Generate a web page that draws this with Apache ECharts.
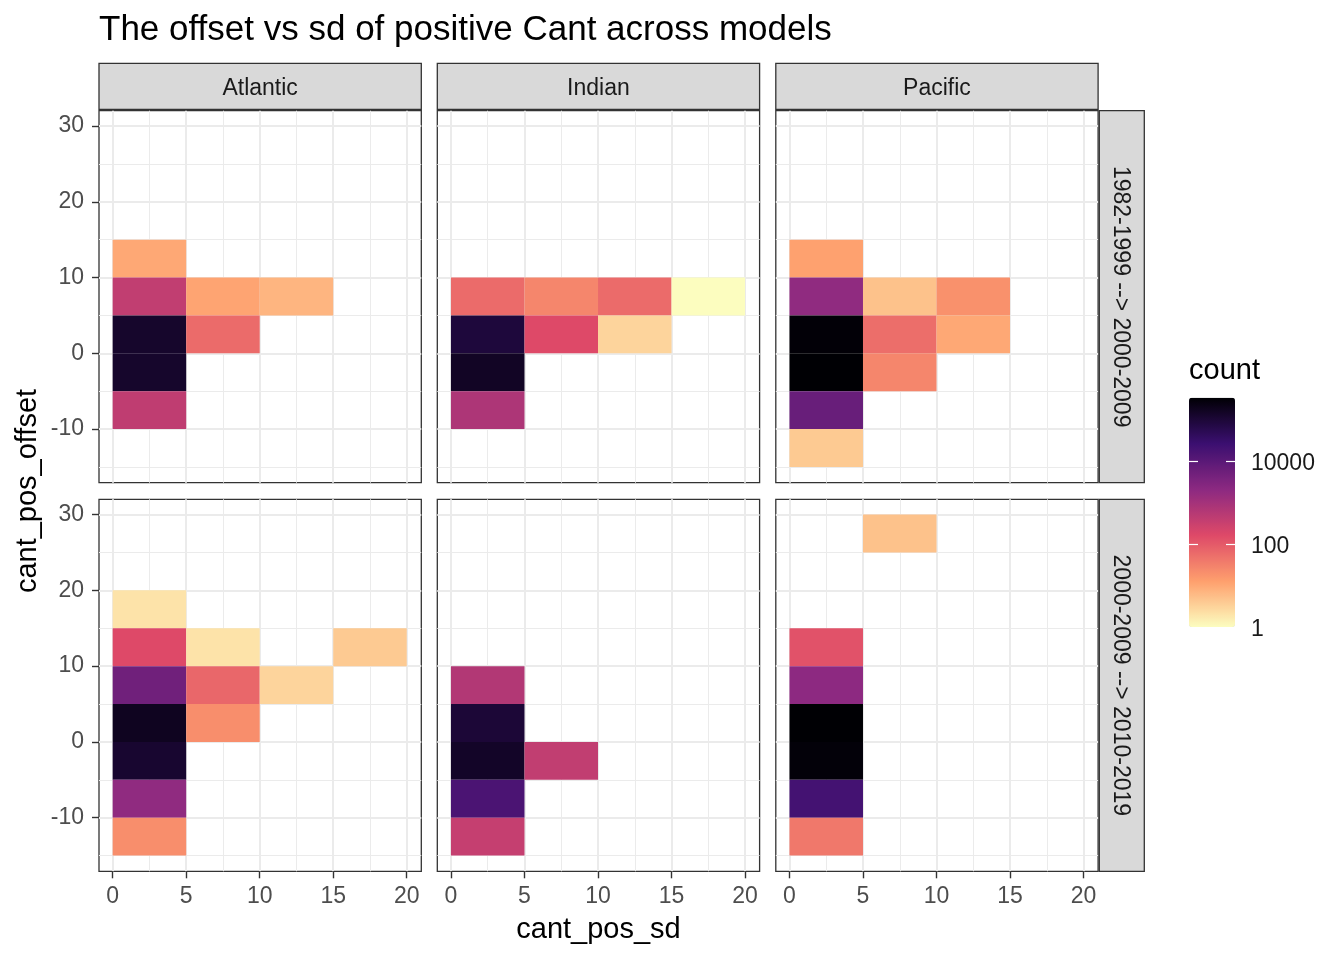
<!DOCTYPE html>
<html><head><meta charset="utf-8">
<script src="https://cdn.jsdelivr.net/npm/echarts@6/dist/echarts.min.js"></script>
<style>html,body{margin:0;padding:0;background:#fff}#c{width:1344px;height:960px}</style>
</head><body><div id="c"></div>
<script>
const basins = ['Atlantic', 'Indian', 'Pacific'];
const periods = ['1982-1999 --> 2000-2009', '2000-2009 --> 2010-2019'];
const xTicks = [0, 5, 10, 15, 20];
const xMinorTicks = [2.5, 7.5, 12.5, 17.5];
const yTicks = [-10, 0, 10, 20, 30];
const yMinorTicks = [-15, -5, 5, 15, 25];
const legendTicks = [1, 100, 10000];
const binWidth = 5;
const maxCount = 335000;
// [cant_pos_sd bin start, cant_pos_offset bin start, count]
const atlanticEarly = [[0,10,10],[0,5,400],[5,5,11],[10,5,7],[0,0,130000],[5,0,60],[0,-5,130000],[0,-10,420]];
const indianEarly = [[0,5,60],[5,5,27],[10,5,60],[15,5,1],[0,0,90000],[5,0,160],[10,0,3],[0,-5,155000],[0,-10,750]];
const pacificEarly = [[0,10,12],[0,5,1800],[5,5,5],[10,5,19],[0,0,310000],[5,0,55],[10,0,10],[0,-5,335000],[5,-5,27],[0,-10,6300],[0,-15,4]];
const atlanticLate = [[0,15,2],[0,10,160],[5,10,2],[15,10,4],[0,5,5000],[5,5,66],[10,5,3],[0,0,175000],[5,0,21],[0,-5,120000],[0,-10,1800],[0,-15,21]];
const indianLate = [[0,5,640],[0,0,100000],[0,-5,145000],[5,-5,400],[0,-10,16000],[0,-15,350]];
const pacificLate = [[5,25,5],[0,10,125],[0,5,2000],[0,0,335000],[0,-5,300000],[0,-10,20000],[0,-15,40]];
const panels = [[atlanticEarly, indianEarly, pacificEarly], [atlanticLate, indianLate, pacificLate]];

const FONT = "'Liberation Sans', Arial, sans-serif";
const colLeft = [99, 437.3, 775.8];
const rowTop = [110.7, 499.3];
const panelW = 322.3, panelH = 372;
const xMin = -0.93, xMax = 20.99, yMin = -17.08, yMax = 32.02;
const magmaRev = ['#FCFDBF','#FE9F6D','#DE4968','#8C2981','#3B0F70','#000004'];

const grids = [], xAxes = [], yAxes = [], series = [], graphics = [];

function renderCell(params, api) {
  const x0 = api.value(0), y0 = api.value(1);
  const p1 = api.coord([x0, y0 + binWidth]);
  const p2 = api.coord([x0 + binWidth, y0]);
  return { type: 'rect', shape: { x: p1[0], y: p1[1], width: p2[0] - p1[0], height: p2[1] - p1[1] },
           style: { fill: api.visual('color') } };
}

for (let r = 0; r < 2; r++) {
  for (let c = 0; c < 3; c++) {
    const gi = r * 3 + c;
    grids.push({ left: colLeft[c], top: rowTop[r], width: panelW, height: panelH, show: true,
      backgroundColor: '#fff', borderColor: '#333333', borderWidth: 1.3, containLabel: false, outerBoundsMode: 'none' });
    const xi = xAxes.length;
    xAxes.push({ gridIndex: gi, type: 'value', min: xMin, max: xMax, position: 'bottom',
      axisLine: { show: false, onZero: false },
      axisTick: { show: r === 1, length: 7, lineStyle: { color: '#333333', width: 1.4 }, customValues: xTicks },
      axisLabel: { show: r === 1, customValues: xTicks, margin: 14, fontSize: 23, color: '#4D4D4D', fontFamily: FONT },
      splitLine: { show: true, lineStyle: { color: '#EBEBEB', width: 2 } } });
    xAxes.push({ gridIndex: gi, type: 'value', min: xMin, max: xMax, position: 'top',
      axisLine: { show: false, onZero: false },
      axisTick: { show: false, customValues: xMinorTicks },
      axisLabel: { show: false, customValues: xMinorTicks },
      splitLine: { show: true, lineStyle: { color: '#EBEBEB', width: 1 } } });
    const yi = yAxes.length;
    yAxes.push({ gridIndex: gi, type: 'value', min: yMin, max: yMax, position: 'left',
      axisLine: { show: false, onZero: false },
      axisTick: { show: c === 0, length: 7, lineStyle: { color: '#333333', width: 1.4 }, customValues: yTicks },
      axisLabel: { show: c === 0, customValues: yTicks, margin: 15, fontSize: 23, color: '#4D4D4D', fontFamily: FONT },
      splitLine: { show: true, lineStyle: { color: '#EBEBEB', width: 2 } } });
    yAxes.push({ gridIndex: gi, type: 'value', min: yMin, max: yMax, position: 'right',
      axisLine: { show: false, onZero: false },
      axisTick: { show: false, customValues: yMinorTicks },
      axisLabel: { show: false, customValues: yMinorTicks },
      splitLine: { show: true, lineStyle: { color: '#EBEBEB', width: 1 } } });
    series.push({ type: 'custom', xAxisIndex: xi, yAxisIndex: yi, renderItem: renderCell,
      encode: { x: 0, y: 1 }, z: 5,
      data: panels[r][c].map(d => [d[0], d[1], d[2], Math.log10(d[2])]) });
  }
}

// colour legend axis grids (ticks; labels)
const legendLeft = 1189, legendTop = 397.7, legendW = 46, legendH = 229.3;
const logMax = Math.log10(maxCount);
const legendVals = legendTicks.map(v => Math.log10(v));
grids.push({ left: legendLeft, top: legendTop, width: legendW, height: legendH, show: false, containLabel: false, outerBoundsMode: 'none' });
grids.push({ left: legendLeft, top: legendTop + 3, width: legendW, height: legendH, show: false, containLabel: false, outerBoundsMode: 'none' });
xAxes.push({ gridIndex: 6, type: 'value', show: false, min: 0, max: 1 });
xAxes.push({ gridIndex: 7, type: 'value', show: false, min: 0, max: 1 });
const whiteTick = { show: true, inside: true, length: 9, lineStyle: { color: '#ffffff', width: 1.2 }, customValues: legendVals.slice(1) };
yAxes.push({ gridIndex: 6, type: 'value', min: 0, max: logMax, position: 'left', z: 10,
  axisLine: { show: false, onZero: false }, axisTick: whiteTick, axisLabel: { show: false }, splitLine: { show: false } });
yAxes.push({ gridIndex: 6, type: 'value', min: 0, max: logMax, position: 'right', z: 10,
  axisLine: { show: false, onZero: false }, axisTick: whiteTick, axisLabel: { show: false }, splitLine: { show: false } });
yAxes.push({ gridIndex: 7, type: 'value', min: 0, max: logMax, position: 'right', z: 10,
  axisLine: { show: false, onZero: false }, axisTick: { show: false, customValues: legendVals },
  axisLabel: { show: true, customValues: legendVals, margin: 16, fontSize: 23, color: '#1A1A1A', fontFamily: FONT,
    formatter: v => String(Math.round(Math.pow(10, v))) },
  splitLine: { show: false } });

function txt(x, y, text, size, color, align, rot) {
  return { type: 'text', x: x, y: y, rotation: rot || 0, z: 20,
    style: { x: 0, y: 0, text: text, font: size + 'px ' + FONT, fill: color,
      textAlign: align, align: align, textVerticalAlign: 'middle', verticalAlign: 'middle' } };
}
// strips
for (let c = 0; c < 3; c++) {
  graphics.push({ type: 'rect', shape: { x: colLeft[c], y: 63.3, width: panelW, height: 46 }, z: 15,
    style: { fill: '#D9D9D9', stroke: '#333333', lineWidth: 1.3 } });
  graphics.push(txt(colLeft[c] + panelW / 2, 88.3, basins[c], 23, '#1A1A1A', 'center'));
}
for (let r = 0; r < 2; r++) {
  graphics.push({ type: 'rect', shape: { x: 1099.3, y: rowTop[r], width: 45, height: panelH }, z: 15,
    style: { fill: '#D9D9D9', stroke: '#333333', lineWidth: 1.3 } });
  graphics.push(txt(1120.5, rowTop[r] + panelH / 2, periods[r], 23, '#1A1A1A', 'center', -Math.PI / 2));
}
graphics.push(txt(99, 30.8, 'The offset vs sd of positive Cant across models', 35, '#000000', 'left'));
graphics.push(txt(598.5, 929.5, 'cant_pos_sd', 29, '#000000', 'center'));
graphics.push(txt(28, 491, 'cant_pos_offset', 29, '#000000', 'center', Math.PI / 2));
graphics.push(txt(1189, 371, 'count', 29, '#000000', 'left'));

const chart = echarts.init(document.getElementById('c'), null, { renderer: 'canvas' });
chart.setOption({
  animation: false,
  backgroundColor: '#ffffff',
  grid: grids, xAxis: xAxes, yAxis: yAxes, series: series,
  visualMap: [{ type: 'continuous', min: 0, max: logMax, dimension: 3, seriesIndex: [0,1,2,3,4,5],
    left: legendLeft, top: legendTop, itemWidth: legendW, itemHeight: legendH, padding: 0,
    calculable: false, text: null, showLabel: false, z: 2, inRange: { color: magmaRev } }],
  graphic: { elements: graphics }
});
</script></body></html>
